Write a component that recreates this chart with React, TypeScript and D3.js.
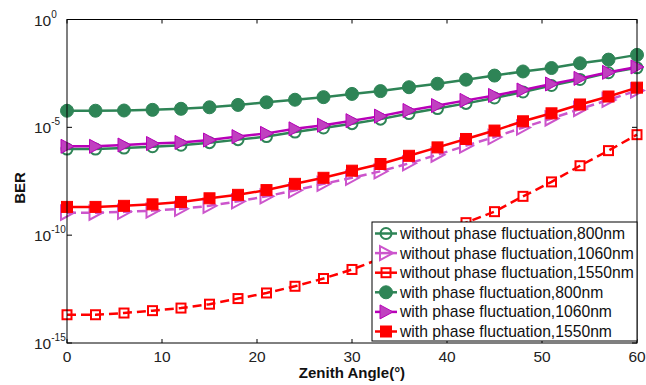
import * as d3 from "d3";

const W = 646;
const H = 385;
const MARGIN = { top: 19.5, right: 9, bottom: 42, left: 67 };

// zenith angle (deg), 0..60 step 3
const angles = [0, 3, 6, 9, 12, 15, 18, 21, 24, 27, 30, 33, 36, 39, 42, 45, 48, 51, 54, 57, 60];

// log10(BER)
const without800 = [-6.01, -6.01, -5.96, -5.9, -5.83, -5.71, -5.57, -5.43, -5.22, -5.03, -4.83, -4.62, -4.36, -4.13, -3.89, -3.64, -3.36, -3.06, -2.78, -2.47, -2.24];
const without1060 = [-8.96, -8.96, -8.92, -8.86, -8.78, -8.64, -8.43, -8.2, -7.92, -7.62, -7.34, -7.04, -6.67, -6.27, -5.85, -5.45, -5.01, -4.59, -4.15, -3.73, -3.29];
const without1550 = [-13.69, -13.69, -13.61, -13.5, -13.38, -13.2, -12.94, -12.68, -12.37, -12.01, -11.59, -11.09, -10.55, -9.99, -9.42, -8.91, -8.2, -7.53, -6.78, -6.08, -5.34];
const with800 = [-4.23, -4.23, -4.22, -4.19, -4.14, -4.07, -3.96, -3.84, -3.72, -3.6, -3.45, -3.32, -3.14, -2.98, -2.79, -2.6, -2.41, -2.25, -2.03, -1.86, -1.64];
const with1060 = [-5.88, -5.88, -5.82, -5.75, -5.7, -5.59, -5.43, -5.28, -5.07, -4.9, -4.69, -4.48, -4.22, -3.99, -3.75, -3.52, -3.27, -2.99, -2.73, -2.45, -2.2];
const with1550 = [-8.69, -8.69, -8.64, -8.57, -8.46, -8.29, -8.13, -7.91, -7.62, -7.34, -7.01, -6.7, -6.32, -5.93, -5.54, -5.15, -4.72, -4.35, -3.94, -3.57, -3.16];

const xTicks = [0, 10, 20, 30, 40, 50, 60];
const yTickExps = [0, -5, -10, -15];

const GREEN = "#2e8456";
const MAGENTA = "#b800b8";
const MAGENTA_LIGHT = "#cc55cc";
const RED = "#ff0000";

type Marker = "circle" | "triangle" | "square";
const series = [
  { name: "without phase fluctuation,800nm", data: without800, color: GREEN, marker: "circle" as Marker, filled: false, dashed: false },
  { name: "without phase fluctuation,1060nm", data: without1060, color: MAGENTA_LIGHT, marker: "triangle" as Marker, filled: false, dashed: true },
  { name: "without phase fluctuation,1550nm", data: without1550, color: RED, marker: "square" as Marker, filled: false, dashed: true },
  { name: "with phase fluctuation,800nm", data: with800, color: GREEN, marker: "circle" as Marker, filled: true, dashed: false },
  { name: "with phase fluctuation,1060nm", data: with1060, color: MAGENTA, marker: "triangle" as Marker, filled: true, dashed: false },
  { name: "with phase fluctuation,1550nm", data: with1550, color: RED, marker: "square" as Marker, filled: true, dashed: false },
];

function MarkerShape({ kind, x, y, color, filled }: { kind: Marker; x: number; y: number; color: string; filled: boolean }) {
  const sw = filled ? 1 : 2;
  const fill = filled ? (kind === "triangle" ? "#c040c0" : color) : "none";
  if (kind === "circle") {
    const r = filled ? 6.5 : 5.5;
    return <circle cx={x} cy={y} r={r} fill={fill} stroke={color} strokeWidth={sw} />;
  }
  if (kind === "square") {
    const s = filled ? 11 : 9;
    return <rect x={x - s / 2} y={y - s / 2} width={s} height={s} fill={fill} stroke={color} strokeWidth={sw} />;
  }
  const pts = `${x - 6},${y - 7} ${x + 7},${y} ${x - 6},${y + 7}`;
  return <polygon points={pts} fill={fill} stroke={color} strokeWidth={sw} strokeLinejoin="miter" />;
}

export default function App() {
  const innerW = W - MARGIN.left - MARGIN.right;
  const innerH = H - MARGIN.top - MARGIN.bottom;

  const xScale = d3.scaleLinear().domain([0, 60]).range([MARGIN.left, MARGIN.left + innerW]);
  const yScale = d3.scaleLog().domain([1e-15, 1]).range([MARGIN.top + innerH, MARGIN.top]);

  const line = d3
    .line<number>()
    .x((_, i) => xScale(angles[i]))
    .y((d) => yScale(Math.pow(10, d)));

  const left = MARGIN.left;
  const right = MARGIN.left + innerW;
  const top = MARGIN.top;
  const bottom = MARGIN.top + innerH;

  // legend box
  const lgX = 372;
  const lgY = 222;
  const lgW = right - lgX;
  const lgH = 119;
  const rowH = 19.6;

  return (
    <svg
      width={W}
      height={H}
      style={{ position: "absolute", left: 0, top: 0, background: "#fff" }}
      fontFamily="'Liberation Sans', Arial, sans-serif"
    >
      <rect x={left} y={top} width={innerW} height={innerH} fill="#fff" />

      {series.map((s, si) => (
        <g key={si}>
          <path
            d={line(s.data) || ""}
            fill="none"
            stroke={s.color}
            strokeWidth={2.5}
            strokeDasharray={s.dashed ? "9,5" : undefined}
          />
          {s.data.map((v, i) => (
            <MarkerShape key={i} kind={s.marker} x={xScale(angles[i])} y={yScale(Math.pow(10, v))} color={s.color} filled={s.filled} />
          ))}
        </g>
      ))}

      {/* frame */}
      <rect x={left} y={top} width={innerW} height={innerH} fill="none" stroke="#000" strokeWidth={1} />

      {/* x ticks */}
      {xTicks.map((t) => (
        <g key={t}>
          <line x1={xScale(t)} x2={xScale(t)} y1={bottom} y2={bottom - 4} stroke="#000" />
          <line x1={xScale(t)} x2={xScale(t)} y1={top} y2={top + 4} stroke="#000" />
          <text x={xScale(t)} y={362} textAnchor="middle" fontSize={15.5} fill="#222">
            {t}
          </text>
        </g>
      ))}

      {/* y ticks */}
      {yTickExps.map((e) => {
        const y = yScale(Math.pow(10, e));
        return (
          <g key={e}>
            <line x1={left} x2={left + 5} y1={y} y2={y} stroke="#000" />
            <line x1={right} x2={right - 5} y1={y} y2={y} stroke="#000" />
            <text x={34} y={y + 6} fontSize={15.5} fill="#222">
              10
              <tspan fontSize={10} dy={-8}>
                {e}
              </tspan>
            </text>
          </g>
        );
      })}

      {/* axis titles */}
      <text x={352} y={378} textAnchor="middle" fontSize={15} fontWeight="bold" fill="#111">
        Zenith Angle(°)
      </text>
      <text transform="translate(25,188) rotate(-90)" textAnchor="middle" fontSize={15} fontWeight="bold" fill="#111">
        BER
      </text>

      {/* legend */}
      <rect x={lgX} y={lgY} width={lgW} height={lgH} fill="#fff" stroke="#000" strokeWidth={1} />
      {series.map((s, i) => {
        const y = lgY + 11.5 + i * rowH;
        return (
          <g key={s.name}>
            <line x1={375} x2={397} y1={y} y2={y} stroke={s.color} strokeWidth={2.5} />
            <MarkerShape kind={s.marker} x={386} y={y} color={s.color} filled={s.filled} />
            <text x={400} y={y + 5.5} fontSize={15.7} fill="#111" textLength={undefined}>
              {s.name}
            </text>
          </g>
        );
      })}
    </svg>
  );
}
